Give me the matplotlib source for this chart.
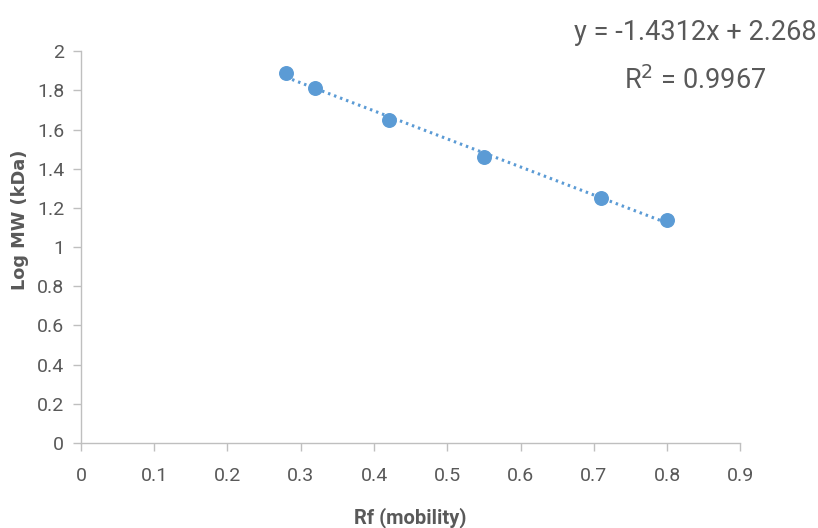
import numpy as np
import matplotlib.pyplot as plt

# Rf vs Log MW standard curve
rf = [0.28, 0.32, 0.42, 0.55, 0.71, 0.80]
log_mw = [1.89, 1.81, 1.65, 1.46, 1.25, 1.14]

# trendline as printed on the chart
slope = -1.4312
intercept = 2.268
r2 = 0.9967

xticks = [0, 0.1, 0.2, 0.3, 0.4, 0.5, 0.6, 0.7, 0.8, 0.9]
yticks = [0, 0.2, 0.4, 0.6, 0.8, 1, 1.2, 1.4, 1.6, 1.8, 2]

blue = '#5B9BD5'
grey = '#595959'
narrow = ['Roboto', 'DejaVu Sans']

fig = plt.figure(figsize=(8.18, 5.28), dpi=100)
ax = fig.add_axes([0.099, 0.161, 0.806, 0.742])

x_fit = np.array([min(rf), max(rf)])
ax.plot(x_fit, slope * x_fit + intercept, color=blue, lw=2.2, ls=(0, (0.8, 1.3)), zorder=2)
ax.scatter(rf, log_mw, s=95, color=blue, zorder=3)

ax.set_xlim(0, 0.9)
ax.set_ylim(0, 2)
ax.set_xticks(xticks)
ax.set_xticklabels([f'{t:g}' for t in xticks], family=narrow, fontsize=14, color=grey)
ax.set_yticks(yticks)
ax.set_yticklabels([f'{t:g}' for t in yticks], family=narrow, fontsize=14, color=grey)
ax.tick_params(axis='x', direction='out', length=6, width=1, color='#BFBFBF', pad=11)
ax.tick_params(axis='y', direction='out', length=6, width=1, color='#BFBFBF', pad=6)

for s in ['top', 'right']:
    ax.spines[s].set_visible(False)
for s in ['left', 'bottom']:
    ax.spines[s].set_color('#BFBFBF')
    ax.spines[s].set_linewidth(1)

ax.set_xlabel('Rf (mobility)', family=narrow, fontsize=14.5, fontweight='bold', color=grey, labelpad=16)
ax.set_ylabel('Log MW (kDa)', family='DejaVu Sans', fontsize=12.8, fontweight='bold', color=grey)
ax.yaxis.set_label_coords(-0.079, 0.57)

fig.text(0.85, 0.939, f'y = {slope}x + {intercept}', family=narrow, fontsize=19.5, color=grey, ha='center', va='center')
fig.text(0.85, 0.848, f'R$^2$ = {r2}', family=narrow, fontsize=19.5, color=grey, ha='center', va='center')

fig.savefig('out.png', dpi=100)
